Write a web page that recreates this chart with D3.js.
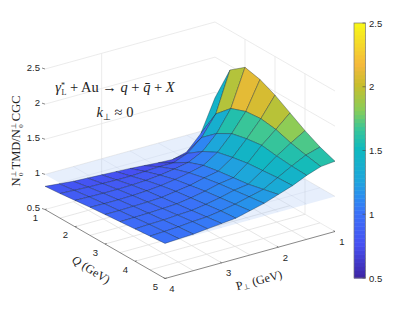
<!DOCTYPE html>
<meta charset="utf-8" />
<title>TMD over CGC ratio surface</title>
<style>
  html, body { margin: 0; padding: 0; background: #fff; }
  svg { display: block; }
  text { font-family: "Liberation Sans", sans-serif; font-size: 9.5px; fill: #262626; }
  .tex, .tex text { font-family: "Liberation Serif", serif; fill: #222; }
  .wall { stroke: #e6e6e6; stroke-width: 0.8px; fill: none; }
  .floor { stroke: #e0e0e0; stroke-width: 0.8px; fill: none; }
  .axis { stroke: #555; stroke-width: 0.7px; fill: none; }
</style>

<body>
  <svg width="415" height="312"></svg>

  <script src="https://d3js.org/d3.v7.min.js"></script>
  <script>
    const qValues = [1, 1.5, 2, 2.5, 3, 3.5, 4, 4.5, 5];
    const pValues = [1, 1.25, 1.5, 1.75, 2, 2.25, 2.5, 2.75, 3, 3.25, 3.5, 3.75, 4];
    const qTicks = [1, 2, 3, 4, 5];
    const pTicks = [1, 2, 3, 4];
    const zTicks = [0.5, 1, 1.5, 2, 2.5];
    const floorQ = [1.5, 2, 2.5, 3, 3.5, 4, 4.5];
    const floorP = [1.5, 2, 2.5, 3, 3.5];

    // one row per P, one column per Q
    const ratio = [
      [1.42, 1.94, 2.10, 2.05, 1.95, 1.82, 1.69, 1.58, 1.50],
      [0.97, 1.37, 1.57, 1.65, 1.67, 1.64, 1.57, 1.52, 1.48],
      [0.76, 1.09, 1.27, 1.39, 1.44, 1.47, 1.44, 1.42, 1.41],
      [0.71, 0.92, 1.07, 1.18, 1.23, 1.27, 1.29, 1.31, 1.32],
      [0.72, 0.84, 0.97, 1.05, 1.09, 1.12, 1.15, 1.20, 1.25],
      [0.735, 0.84, 0.93, 1.00, 1.05, 1.09, 1.12, 1.15, 1.18],
      [0.75, 0.83, 0.90, 0.96, 1.00, 1.04, 1.07, 1.10, 1.13],
      [0.76, 0.82, 0.88, 0.93, 0.97, 1.00, 1.03, 1.06, 1.08],
      [0.77, 0.82, 0.87, 0.91, 0.94, 0.97, 1.00, 1.03, 1.06],
      [0.78, 0.825, 0.865, 0.90, 0.93, 0.96, 0.99, 1.02, 1.04],
      [0.79, 0.83, 0.865, 0.895, 0.925, 0.95, 0.975, 1.00, 1.02],
      [0.81, 0.84, 0.87, 0.895, 0.92, 0.945, 0.97, 0.99, 1.01],
      [0.83, 0.85, 0.875, 0.90, 0.92, 0.94, 0.96, 0.98, 1.00]
    ];

    const svg = d3.select("svg");

    // oblique projection: each data axis has its own pixel scale
    const qX = d3.scaleLinear().domain([1, 5]).range([0, 120]);
    const qY = d3.scaleLinear().domain([1, 5]).range([0, 69]);
    const pX = d3.scaleLinear().domain([1, 4]).range([0, -170]);
    const pY = d3.scaleLinear().domain([1, 4]).range([0, 47]);
    const zY = d3.scaleLinear().domain([0.5, 2.5]).range([0, -140.5]);
    const project = (q, p, z) => [215 + qX(q) + pX(p), 162.5 + qY(q) + pY(p) + zY(z)];
    const line = d3.line();

    const parula = d3.scaleLinear()
      .domain([0, 0.125, 0.25, 0.31, 0.375, 0.5, 0.58, 0.65, 0.75, 0.83, 0.92, 1])
      .range(["#3e26a8", "#4650f2", "#3a72f8", "#2a8cf0", "#1ea5dc", "#0fb9be", "#3cc696", "#87cd5a", "#c8be2d", "#f5b93c", "#f5dc28", "#f9fb14"]);
    const colorT = d3.scaleLinear().domain([0.5, 2.5]).range([0, 1]);
    const color = z => parula(colorT(z));

    // walls
    const qMin = 1, qMax = 5, pMin = 1, pMax = 4, zMin = 0.5, zMax = 2.5;
    zTicks.forEach(z => {
      svg.append("path").attr("class", "wall")
        .attr("d", line([project(qMin, pMax, z), project(qMin, pMin, z), project(qMax, pMin, z)]));
    });
    svg.append("path").attr("class", "wall")
      .attr("d", line([project(qMin, 3, zMin), project(qMin, 3, zMax)]));
    qTicks.slice(1, -1).forEach(q => {
      svg.append("path").attr("class", "wall")
        .attr("d", line([project(q, pMin, zMin), project(q, pMin, zMax)]));
    });

    // floor
    floorQ.forEach(q => {
      svg.append("path").attr("class", "floor")
        .attr("d", line([project(q, pMin, zMin), project(q, pMax, zMin)]));
    });
    floorP.forEach(p => {
      svg.append("path").attr("class", "floor")
        .attr("d", line([project(qMin, p, zMin), project(qMax, p, zMin)]));
    });

    // flat plane at ratio 1
    const plane = [project(qMin, pMin, 1), project(qMax, pMin, 1), project(qMax, pMax, 1), project(qMin, pMax, 1)];
    svg.append("path")
      .attr("d", line(plane) + "Z")
      .attr("fill", "#a9c4f5")
      .attr("fill-opacity", 0.28);
    floorQ.forEach(q => {
      svg.append("path").attr("stroke", "#5a6a90").attr("stroke-opacity", 0.12).attr("stroke-width", 0.6)
        .attr("d", line([project(q, pMin, 1), project(q, pMax, 1)]));
    });
    floorP.forEach(p => {
      svg.append("path").attr("stroke", "#5a6a90").attr("stroke-opacity", 0.12).attr("stroke-width", 0.6)
        .attr("d", line([project(qMin, p, 1), project(qMax, p, 1)]));
    });

    // surface cells, far ones first
    const cells = [];
    pValues.slice(0, -1).forEach((p, i) => {
      qValues.slice(0, -1).forEach((q, j) => {
        const q2 = qValues[j + 1], p2 = pValues[i + 1];
        cells.push({
          order: i + j * 0.6,
          z: ratio[i][j],
          pts: [
            project(q, p, ratio[i][j]),
            project(q2, p, ratio[i][j + 1]),
            project(q2, p2, ratio[i + 1][j + 1]),
            project(q, p2, ratio[i + 1][j])
          ]
        });
      });
    });
    cells.sort((a, b) => a.order - b.order);

    svg.append("g").selectAll("path")
      .data(cells)
      .enter()
      .append("path")
      .attr("d", d => line(d.pts) + "Z")
      .attr("fill", d => color(d.z))
      .attr("stroke", "#123")
      .attr("stroke-opacity", 0.6)
      .attr("stroke-width", 0.6)
      .attr("stroke-linejoin", "round");

    // axis lines
    svg.append("path").attr("class", "axis")
      .attr("d", line([project(qMin, pMax, zMin), project(qMax, pMax, zMin), project(qMax, pMin, zMin)]));

    qTicks.forEach(q => {
      const a = project(q, pMax, zMin), b = project(q, pMax - 0.03, zMin);
      svg.append("path").attr("class", "axis").attr("d", line([a, b]));
      svg.append("text").attr("x", a[0] - 9.5).attr("y", a[1] + 11.5).attr("text-anchor", "middle").text(q);
    });
    pTicks.forEach(p => {
      const a = project(qMax, p, zMin), b = project(qMax - 0.05, p, zMin);
      svg.append("path").attr("class", "axis").attr("d", line([a, b]));
      svg.append("text").attr("x", a[0] + 7).attr("y", a[1] + 13.5).attr("text-anchor", "middle").text(p);
    });
    zTicks.forEach(z => {
      const a = project(qMin, pMax, z);
      svg.append("path").attr("class", "axis").attr("d", line([a, [a[0] - 3, a[1] - 1]]));
      svg.append("text").attr("x", a[0] - 5).attr("y", a[1] + 1.5).attr("text-anchor", "end").text(z);
    });

    // colorbar
    const barY = d3.scaleLinear().domain([0.5, 2.5]).range([278, 23]);
    const barValues = d3.range(0, 64).map(i => 0.5 + (i / 64) * 2);
    svg.append("g").selectAll("rect")
      .data(barValues)
      .enter()
      .append("rect")
      .attr("x", 354)
      .attr("width", 11.5)
      .attr("y", d => barY(d + 2 / 64))
      .attr("height", d => barY(d) - barY(d + 2 / 64) + 0.5)
      .attr("fill", d => color(d));
    svg.append("rect").attr("x", 354).attr("y", 23).attr("width", 11.5).attr("height", 255)
      .attr("fill", "none").attr("stroke", "#777").attr("stroke-width", 0.7);
    zTicks.forEach(z => {
      svg.append("path").attr("stroke", "#444").attr("stroke-width", 0.6)
        .attr("d", line([[362.5, barY(z)], [365.5, barY(z)]]));
      svg.append("text").attr("x", 369).attr("y", barY(z) + 3.5).text(z);
    });

    // labels
    const tex = svg.append("g").attr("class", "tex");
    const anno = tex.append("text").attr("x", 115).attr("y", 92).attr("text-anchor", "middle").style("font-size", "14.5px");
    anno.append("tspan").style("font-style", "italic").text("γ");
    anno.append("tspan").attr("dy", -4).style("font-size", "8px").text("*");
    anno.append("tspan").attr("dy", 7).attr("dx", -3.5).style("font-size", "8px").text("L");
    anno.append("tspan").attr("dy", -3).text(" + Au → ");
    anno.append("tspan").style("font-style", "italic").text("q");
    anno.append("tspan").text(" + ");
    anno.append("tspan").style("font-style", "italic").text("q̄");
    anno.append("tspan").text(" + ");
    anno.append("tspan").style("font-style", "italic").text("X");

    const kperp = tex.append("text").attr("x", 115).attr("y", 117).attr("text-anchor", "middle").style("font-size", "14.5px");
    kperp.append("tspan").style("font-style", "italic").text("k");
    kperp.append("tspan").attr("dy", 3).style("font-size", "9px").text("⊥");
    kperp.append("tspan").attr("dy", -3).text(" ≈ 0");

    const qLabel = tex.append("text").attr("transform", "translate(89,273) rotate(32)").attr("text-anchor", "middle").style("font-size", "12px");
    qLabel.append("tspan").style("font-style", "italic").text("Q");
    qLabel.append("tspan").text(" (GeV)");

    const pLabel = tex.append("text").attr("transform", "translate(260,284) rotate(-15)").attr("text-anchor", "middle").style("font-size", "12px");
    pLabel.append("tspan").text("P");
    pLabel.append("tspan").attr("dy", 2).style("font-size", "7.5px").text("⊥");
    pLabel.append("tspan").attr("dy", -2).text(" (GeV)");

    // N with perp above and 0 below, twice
    const yLabel = tex.append("text").attr("transform", "translate(20,141) rotate(-90)").attr("text-anchor", "middle").style("font-size", "12.5px");
    yLabel.append("tspan").text("N");
    yLabel.append("tspan").attr("dy", -4).style("font-size", "7px").text("⊥");
    yLabel.append("tspan").attr("dy", 7).attr("dx", -4.5).style("font-size", "7px").text("0");
    yLabel.append("tspan").attr("dy", -3).attr("dx", 3).text("TMD/N");
    yLabel.append("tspan").attr("dy", -4).style("font-size", "7px").text("⊥");
    yLabel.append("tspan").attr("dy", 7).attr("dx", -4.5).style("font-size", "7px").text("0");
    yLabel.append("tspan").attr("dy", -3).attr("dx", 3).text("CGC");
  </script>
</body>
